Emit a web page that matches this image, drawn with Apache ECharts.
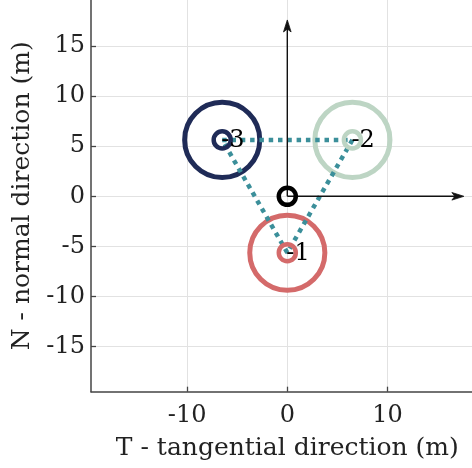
<!DOCTYPE html>
<html>
<head>
<meta charset="utf-8">
<script src="https://cdn.jsdelivr.net/npm/echarts@6/dist/echarts.min.js"></script>
<style>
html,body{margin:0;padding:0;background:#fff;}
#chart{width:472px;height:468px;}
</style>
</head>
<body>
<div id="chart"></div>
<script>
// ---- data ----
const nodeNames = ['-1', '-2', '-3'];
const nodeT = [0, 6.5, -6.5];
const nodeN = [-5.63, 5.63, 5.63];
const nodeColors = ['#d46a6a', '#bdd5c4', '#1f2b57'];
const outerRadius = 3.75;   // m
const innerRadius = 0.85;   // m
const originRadius = 0.85;  // m
const linkOrder = [2, 1, 0, 2];
const arrowTipT = [17.63, 0];
const arrowTipN = [0, 17.6];
const xTicks = [-10, 0, 10];
const yTicks = [-15, -10, -5, 0, 5, 10, 15];
const xLabel = 'T - tangential direction (m)';
const yLabel = 'N - normal direction (m)';

const FONT = 'DejaVu Serif';
const FS = 24;
const NFS = 25;
const nodeData = nodeNames.map((n, i) => [nodeT[i], nodeN[i], i]);
const linkData = linkOrder.map(i => [nodeT[i], nodeN[i]]);
const arrowData = arrowTipT.map((t, i) => [t, arrowTipN[i]]);

function ringItem(r, widthPx, colorFn) {
  return function (params, api) {
    const i = api.value(2);
    const c = api.coord([api.value(0), api.value(1)]);
    const rp = api.size([r, 0])[0];
    return {
      type: 'circle',
      shape: { cx: c[0], cy: c[1], r: rp },
      style: { fill: 'none', stroke: colorFn(i), lineWidth: widthPx }
    };
  };
}

const chart = echarts.init(document.getElementById('chart'), null, { renderer: 'canvas' });
const axisCommon = {
  type: 'value',
  axisLine: { show: true, onZero: false, lineStyle: { color: '#444', width: 1.5 } },
  axisTick: { show: true, inside: true, length: 5, lineStyle: { color: '#444', width: 1.3 } },
  splitLine: { show: true, lineStyle: { color: '#e2e2e2', width: 1 } },
  axisLabel: { color: '#222', fontFamily: FONT, fontSize: FS },
  nameTextStyle: { color: '#222', fontFamily: FONT, fontSize: NFS },
  nameLocation: 'middle'
};
chart.setOption({
  animation: false,
  grid: { left: 91, top: 0, width: 392.6, height: 391.7, containLabel: false, outerBoundsMode: 'none' },
  xAxis: Object.assign({}, axisCommon, {
    min: -19.6, max: 19.6,
    name: xLabel, nameGap: 44,
    axisTick: Object.assign({}, axisCommon.axisTick, { customValues: xTicks }),
    axisLabel: Object.assign({}, axisCommon.axisLabel, { customValues: xTicks, margin: 12 })
  }),
  yAxis: Object.assign({}, axisCommon, {
    min: -19.5, max: 19.59,
    name: yLabel, nameGap: 54,
    axisTick: Object.assign({}, axisCommon.axisTick, { customValues: yTicks }),
    axisLabel: Object.assign({}, axisCommon.axisLabel, { customValues: yTicks, margin: 6 })
  }),
  series: [
    {
      type: 'custom', name: 'outer', data: nodeData, z: 2,
      renderItem: ringItem(outerRadius, 5, i => nodeColors[i])
    },
    {
      type: 'line', name: 'links', data: linkData, z: 3,
      symbol: 'none', silent: true,
      lineStyle: { color: '#3b8f9a', width: 4.5, type: [4.5, 4.8], cap: 'butt' }
    },
    {
      type: 'custom', name: 'inner', data: nodeData, z: 4,
      renderItem: ringItem(innerRadius, 4.5, i => nodeColors[i])
    },
    {
      type: 'custom', name: 'arrows', data: arrowData, z: 5,
      renderItem: function (params, api) {
        const o = api.coord([0, 0]);
        const t = api.coord([api.value(0), api.value(1)]);
        const dx = t[0] - o[0], dy = t[1] - o[1];
        const len = Math.sqrt(dx * dx + dy * dy);
        const ux = dx / len, uy = dy / len;
        const px = -uy, py = ux;
        const L = 12, W = 3.8, B = 9;
        return {
          type: 'group',
          children: [
            { type: 'line', shape: { x1: o[0], y1: o[1], x2: t[0] - ux * 6, y2: t[1] - uy * 6 },
              style: { stroke: '#111', lineWidth: 1.4 } },
            { type: 'polygon', shape: { points: [
                [t[0], t[1]],
                [t[0] - ux * L + px * W, t[1] - uy * L + py * W],
                [t[0] - ux * B, t[1] - uy * B],
                [t[0] - ux * L - px * W, t[1] - uy * L - py * W]
              ] }, style: { fill: '#111', stroke: '#111', lineWidth: 0.8 } }
          ]
        };
      }
    },
    {
      type: 'custom', name: 'origin', data: [[0, 0, 0]], z: 6,
      renderItem: ringItem(originRadius, 4.5, () => '#000')
    },
    {
      type: 'custom', name: 'labels', data: nodeData, z: 7,
      renderItem: function (params, api) {
        const i = api.value(2);
        const c = api.coord([api.value(0), api.value(1)]);
        return {
          type: 'text', z2: 100,
          style: { x: c[0] - 1, y: c[1] + 1, text: nodeNames[i], fill: '#000',
                   font: FS + 'px "' + FONT + '"', align: 'left', verticalAlign: 'middle' }
        };
      }
    }
  ]
});
</script>
</body>
</html>
